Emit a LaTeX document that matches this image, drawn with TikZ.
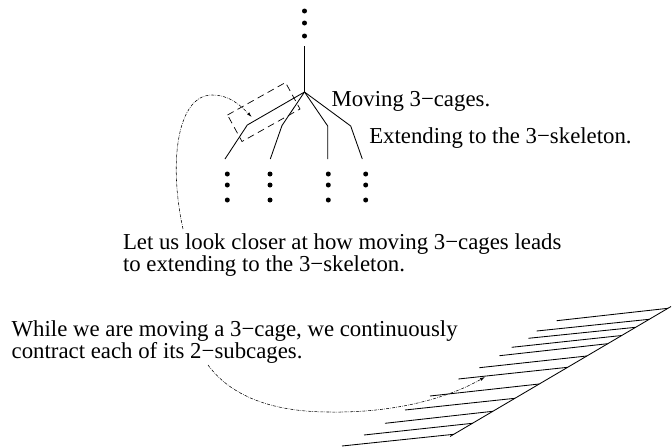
\documentclass[tikz,border=0pt]{standalone}
\usepackage{fontspec}
\setmainfont{Liberation Serif}
\usetikzlibrary{arrows.meta}
\begin{document}
\begin{tikzpicture}[x=1pt,y=-1pt,
  txt/.style={anchor=base west, inner sep=0pt, outer sep=0pt, font=\fontsize{22.8}{24}\selectfont},
  tree/.style={line width=0.85pt},
  dotn/.style={circle, fill=black, inner sep=0pt, minimum size=5pt},
  cage/.style={dash pattern=on 7pt off 4.5pt, line width=0.7pt},
  pointer/.style={dash pattern=on 3pt off 1.2pt on 0.6pt off 1.2pt, line width=0.55pt, -{Latex[length=5pt,width=3pt]}},
  hatch/.style={line width=0.85pt}]
\useasboundingbox (0,0) rectangle (672,447);

% top dots and stem
\node[dotn] (t1) at (304.5,11) {};
\node[dotn] (t2) at (304.5,23) {};
\node[dotn] (t3) at (304.5,36) {};
\coordinate (stemtop) at (304.5,46);
\coordinate (root) at (304.5,92);
\draw[tree] (stemtop) -- (root);

% branches
\coordinate (k1) at (247.3,125);   \coordinate (e1) at (225,159);
\coordinate (k2) at (282,125.5);   \coordinate (e2) at (270.3,159);
\coordinate (k3) at (327.7,126);   \coordinate (e3) at (327.7,159);
\coordinate (k4) at (350.7,126);   \coordinate (e4) at (362.3,159);
\draw[tree] (root) -- (k1) -- (e1);
\draw[tree] (root) -- (k2) -- (e2);
\draw[tree] (root) -- (k3) -- (e3);
\draw[tree] (root) -- (k4) -- (e4);

% bottom dots
\foreach \x [count=\i] in {227.3,270,328.3,365.7}{
  \node[dotn] (b\i a) at (\x,174) {};
  \node[dotn] (b\i b) at (\x,185) {};
  \node[dotn] (b\i c) at (\x,200) {};
}

% dashed cage box
\coordinate (ra) at (227.5,115);
\coordinate (rb) at (285.5,82.5);
\coordinate (rc) at (300,109);
\coordinate (rd) at (242,141.5);
\draw[cage] (ra) -- (rb) -- (rc) -- (rd) -- cycle;

% texts
\node[txt] (moving) at (331.7,106) {Moving 3−cages.};
\node[txt] (extending) at (369.3,143.3) {Extending to the 3−skeleton.};
\node[txt] (look1) at (123,249.5) {Let us look closer at how moving 3−cages leads};
\node[txt] (look2) at (123,271.5) {to extending to the 3−skeleton.};
\node[txt] (while1) at (11.7,336.5) {While we are moving a 3−cage, we continuously};
\node[txt] (while2) at (11.7,358.5) {contract each of its 2−subcages.};

% pointer 1
\coordinate (p1s) at (183,229);
\coordinate (p1m) at (212,95);
\coordinate (p1e) at (251.7,117);
\draw[pointer] (p1s) .. controls (168,160) and (178,95) .. (p1m)
  .. controls (230,95) and (241,106) .. (p1e);

% hatched surface
\coordinate (dtop) at (671,306.5);
\coordinate (dbot) at (450,436.5);
\draw[hatch] (dtop) -- (dbot);
\foreach \rx/\ry/\lx/\ly in {
  667.9/308.3/556.7/320.7,
  649.2/319.3/536.7/331,
  635.6/327.3/528.3/338.3,
  621.7/335.5/511.7/347.3,
  607.7/343.7/499.5/355.7,
  586.8/356/479.3/367.7,
  567.6/367.3/458.3/379,
  539.2/384/430/396,
  514.9/398.3/405/410,
  492.8/411.3/385/423.3,
  472.4/423.3/364/435,
  453.7/434.3/342/446}{
  \draw[hatch] (\rx,\ry) -- (\lx,\ly);
}

% pointer 2
\coordinate (p2s) at (208,365);
\coordinate (p2m) at (330,412);
\coordinate (p2e) at (485,377);
\draw[pointer] (p2s) .. controls (230,395) and (270,412) .. (p2m)
  .. controls (395,413) and (448,398) .. (p2e);
\end{tikzpicture}
\end{document}
